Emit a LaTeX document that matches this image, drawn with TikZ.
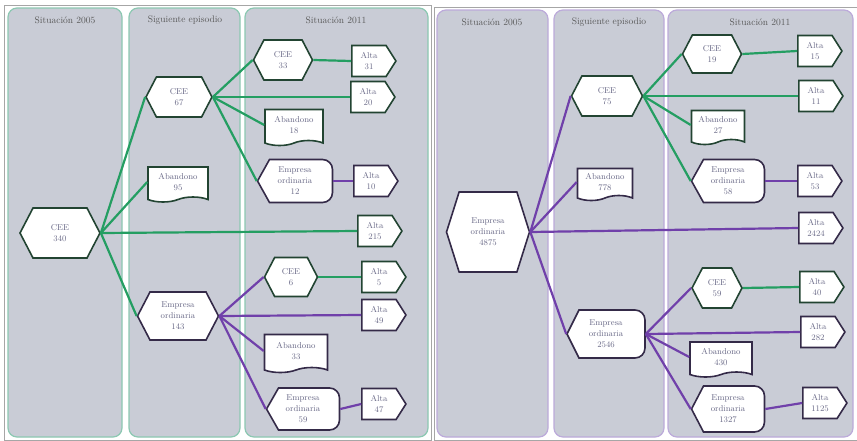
\documentclass[tikz,border=0pt]{standalone}
\usepackage{tikz}
\usetikzlibrary{shapes.symbols}
\definecolor{colfill}{RGB}{201,204,214}
\definecolor{grnedge}{RGB}{140,200,178}
\definecolor{purpedge}{RGB}{188,170,218}
\definecolor{grnline}{RGB}{36,158,98}
\definecolor{purpline}{RGB}{112,64,170}
\definecolor{grnbord}{RGB}{34,68,50}
\definecolor{purpbord}{RGB}{52,42,72}
\definecolor{txtgray}{RGB}{105,105,135}
% pointed on the left, rounded on the right
\newdimen\dspL \newdimen\dspR \newdimen\dspT \newdimen\dspB
\newdimen\dspM \newdimen\dspO
\makeatletter
\pgfdeclareshape{display}{
  \inheritsavedanchors[from=rectangle]
  \inheritanchorborder[from=rectangle]
  \inheritanchor[from=rectangle]{center}
  \inheritanchor[from=rectangle]{north}
  \inheritanchor[from=rectangle]{south}
  \inheritanchor[from=rectangle]{east}
  \inheritanchor[from=rectangle]{west}
  \inheritanchor[from=rectangle]{north east}
  \inheritanchor[from=rectangle]{north west}
  \inheritanchor[from=rectangle]{south east}
  \inheritanchor[from=rectangle]{south west}
  \inheritanchor[from=rectangle]{base}
  \inheritanchor[from=rectangle]{mid}
  \backgroundpath{
    \southwest \dspL=\pgf@x \dspB=\pgf@y
    \northeast \dspR=\pgf@x \dspT=\pgf@y
    \pgfmathsetlength\dspO{\pgfkeysvalueof{/pgf/outer xsep}}%
    \advance\dspL by \dspO \advance\dspR by -\dspO
    \advance\dspB by \dspO \advance\dspT by -\dspO
    \dspM=.5\dspB \advance\dspM by .5\dspT
    \pgfpathmoveto{\pgfqpoint{\dspL}{\dspM}}%
    \advance\dspL by 12pt
    \pgfpathlineto{\pgfqpoint{\dspL}{\dspT}}%
    \advance\dspR by -10pt
    \pgfpathlineto{\pgfqpoint{\dspR}{\dspT}}%
    \pgfpatharc{90}{0}{10pt}%
    \advance\dspR by 10pt \advance\dspB by 10pt
    \pgfpathlineto{\pgfqpoint{\dspR}{\dspB}}%
    \pgfpatharc{0}{-90}{10pt}%
    \advance\dspB by -10pt
    \pgfpathlineto{\pgfqpoint{\dspL}{\dspB}}%
    \pgfpathclose
  }
}
\makeatother
\tikzset{
  col/.style={fill=colfill, rounded corners=9pt, line width=1.2pt},
  head/.style={text=black!65, font=\fontsize{9.5}{11}\selectfont},
  box/.style={fill=white, line width=1.6pt, text=txtgray, align=center,
    font=\fontsize{8.5}{11}\selectfont, inner sep=1pt},
  hexa/.style={box, signal, signal to=east and west, signal pointer angle=125},
  alta/.style={box, signal, signal to=east, signal pointer angle=115,
    minimum width=44pt, minimum height=31pt},
  aband/.style={box, tape, tape bend top=none, tape bend bottom=in and out,
    tape bend height=5pt},
  empr/.style={box, shape=display},
  gline/.style={draw=grnline, line width=2.2pt},
  pline/.style={draw=purpline, line width=2.2pt},
}
\begin{document}
\begin{tikzpicture}[x=1pt, y=-1pt]
  \useasboundingbox[fill=white] (0,0) rectangle (857,440);
  % panel frames and columns
  \draw[black!35, line width=0.6pt] (4,5) rectangle (431,440);
  \draw[black!35, line width=0.6pt] (434,7) rectangle (857,440);
  \draw[col, draw=grnedge] (8,8) rectangle (122,437);
  \draw[col, draw=grnedge] (129,8) rectangle (240,437);
  \draw[col, draw=grnedge] (245,8) rectangle (428,437);
  \draw[col, draw=purpedge] (437,10) rectangle (548,437);
  \draw[col, draw=purpedge] (554,10) rectangle (664,437);
  \draw[col, draw=purpedge] (668,10) rectangle (853,437);
  \node[head] (h1) at (65,20) {Situación 2005};
  \node[head] (h2) at (185,20) {Siguiente episodio};
  \node[head] (h3) at (336,20) {Situación 2011};
  \node[head] (h4) at (492,22) {Situación 2005};
  \node[head] (h5) at (609,22) {Siguiente episodio};
  \node[head] (h6) at (760,22) {Situación 2011};

  % left panel
  \node[hexa, draw=grnbord, minimum width=80pt, minimum height=50pt] (cee340) at (60,233) {CEE\\340};
  \node[hexa, draw=grnbord, minimum width=66pt, minimum height=40pt] (cee67) at (179,97) {CEE\\67};
  \node[aband, draw=grnbord, minimum width=60pt, minimum height=35pt] (ab95) at (178,182) {Abandono\\95};
  \node[hexa, draw=purpbord, minimum width=81pt, minimum height=48pt] (emp143) at (178,316) {Empresa\\ordinaria\\143};
  \node[hexa, draw=grnbord, minimum width=59pt, minimum height=40pt] (cee33) at (283,60) {CEE\\33};
  \node[alta, draw=grnbord] (alta31) at (369,61) {Alta\\31};
  \node[alta, draw=grnbord] (alta20) at (368,97) {Alta\\20};
  \node[aband, draw=grnbord, minimum width=58pt, minimum height=36pt] (ab18) at (294,125) {Abandono\\18};
  \node[empr, draw=purpbord, minimum width=75pt, minimum height=43pt] (emp12) at (295,181) {Empresa\\ordinaria\\12};
  \node[alta, draw=purpbord] (alta10) at (371,181) {Alta\\10};
  \node[alta, draw=grnbord] (alta215) at (375,231) {Alta\\215};
  \node[hexa, draw=grnbord, minimum width=53pt, minimum height=39pt] (cee6) at (291,277) {CEE\\6};
  \node[alta, draw=grnbord] (alta5) at (379,277) {Alta\\5};
  \node[alta, draw=purpbord] (alta49) at (379,315) {Alta\\49};
  \node[aband, draw=purpbord, minimum width=63pt, minimum height=38pt] (ab33) at (296,351) {Abandono\\33};
  \node[empr, draw=purpbord, minimum width=73pt, minimum height=42pt] (emp59) at (303,409) {Empresa\\ordinaria\\59};
  \node[alta, draw=purpbord] (alta47) at (379,404) {Alta\\47};

  \draw[gline] (cee340.east) -- (cee67.west);
  \draw[gline] (cee340.east) -- (ab95.west);
  \draw[gline] (cee340.east) -- (alta215.west);
  \draw[gline] (cee340.east) -- (emp143.west);
  \draw[gline] (cee67.east) -- (cee33.west);
  \draw[gline] (cee67.east) -- (alta20.west);
  \draw[gline] (cee67.east) -- (ab18.west);
  \draw[gline] (cee67.east) -- (emp12.west);
  \draw[gline] (cee33.east) -- (alta31.west);
  \draw[pline] (emp12.east) -- (alta10.west);
  \draw[pline] (emp143.east) -- (cee6.west);
  \draw[pline] (emp143.east) -- (alta49.west);
  \draw[pline] (emp143.east) -- (ab33.west);
  \draw[pline] (emp143.east) -- (emp59.west);
  \draw[gline] (cee6.east) -- (alta5.west);
  \draw[pline] (emp59.east) -- (alta47.west);

  % right panel
  \node[hexa, draw=purpbord, signal pointer angle=145, minimum width=83pt, minimum height=80pt] (emp4875) at (488,232) {Empresa\\ordinaria\\4875};
  \node[hexa, draw=grnbord, minimum width=71pt, minimum height=40pt] (cee75) at (607,96) {CEE\\75};
  \node[aband, draw=purpbord, minimum width=55pt, minimum height=32pt] (ab778) at (605,182) {Abandono\\778};
  \node[empr, draw=purpbord, minimum width=78pt, minimum height=48pt] (emp2546) at (606,334) {Empresa\\ordinaria\\2546};
  \node[hexa, draw=grnbord, minimum width=59pt, minimum height=38pt] (cee19) at (712,54) {CEE\\19};
  \node[alta, draw=grnbord] (alta15) at (815,51) {Alta\\15};
  \node[alta, draw=grnbord] (alta11) at (816,96) {Alta\\11};
  \node[aband, draw=grnbord, minimum width=53pt, minimum height=34pt] (ab27) at (718,125) {Abandono\\27};
  \node[empr, draw=purpbord, minimum width=73pt, minimum height=43pt] (emp58) at (728,181) {Empresa\\ordinaria\\58};
  \node[alta, draw=purpbord] (alta53) at (815,181) {Alta\\53};
  \node[alta, draw=purpbord] (alta2424) at (816,228) {Alta\\2424};
  \node[hexa, draw=grnbord, minimum width=50pt, minimum height=40pt] (cee59) at (717,288) {CEE\\59};
  \node[alta, draw=grnbord] (alta40) at (817,287) {Alta\\40};
  \node[alta, draw=purpbord] (alta282) at (818,332) {Alta\\282};
  \node[aband, draw=purpbord, minimum width=62pt, minimum height=35pt] (ab430) at (721,357) {Abandono\\430};
  \node[empr, draw=purpbord, minimum width=73pt, minimum height=46pt] (emp1327) at (728,409) {Empresa\\ordinaria\\1327};
  \node[alta, draw=purpbord] (alta1125) at (820,403) {Alta\\1125};

  \draw[pline] (emp4875.east) -- (cee75.west);
  \draw[pline] (emp4875.east) -- (ab778.west);
  \draw[pline] (emp4875.east) -- (alta2424.west);
  \draw[pline] (emp4875.east) -- (emp2546.west);
  \draw[gline] (cee75.east) -- (cee19.west);
  \draw[gline] (cee75.east) -- (alta11.west);
  \draw[gline] (cee75.east) -- (ab27.west);
  \draw[gline] (cee75.east) -- (emp58.west);
  \draw[gline] (cee19.east) -- (alta15.west);
  \draw[pline] (emp58.east) -- (alta53.west);
  \draw[pline] (emp2546.east) -- (cee59.west);
  \draw[pline] (emp2546.east) -- (alta282.west);
  \draw[pline] (emp2546.east) -- (ab430.west);
  \draw[pline] (emp2546.east) -- (emp1327.west);
  \draw[gline] (cee59.east) -- (alta40.west);
  \draw[pline] (emp1327.east) -- (alta1125.west);
\end{tikzpicture}
\end{document}
